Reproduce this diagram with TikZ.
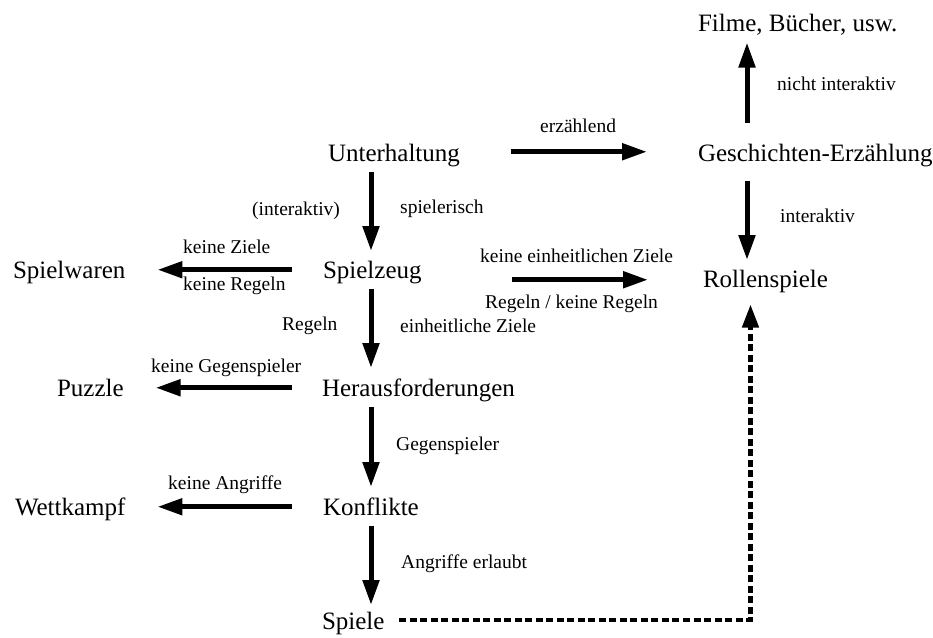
\documentclass[tikz,border=0pt]{standalone}
\usepackage{fontspec}
\setmainfont{Liberation Serif}
\usetikzlibrary{arrows.meta}
\begin{document}
\begin{tikzpicture}[x=1pt,y=-1pt,
  term/.style={anchor=base west,inner sep=0pt,outer sep=0pt,
    text height=17pt,text depth=5.5pt,font=\fontsize{25}{30}\selectfont},
  lbl/.style={anchor=base west,inner sep=0pt,font=\fontsize{19.5}{23}\selectfont},
  arr/.style={line width=5pt,-{Triangle[length=25pt,width=16pt]}},
  darr/.style={line width=4.5pt,dash pattern=on 7pt off 3.5pt,
    -{Triangle[length=23pt,width=16pt]}}]
\useasboundingbox (0,0) rectangle (933,637);

% categories
\node[term] (fil) at (698,31) {Filme, Bücher, usw.};
\node[term] (unt) at (328,161.5) {Unterhaltung};
\node[term] (ges) at (698,161.5) {Geschichten-Erzählung};
\node[term] (spz) at (323,278) {Spielzeug};
\node[term] (spw) at (13,278) {Spielwaren};
\node[term] (rol) at (703,287) {Rollenspiele};
\node[term] (her) at (322,396) {Herausforderungen};
\node[term] (puz) at (57,396) {Puzzle};
\node[term] (kon) at (323,515) {Konflikte};
\node[term] (wet) at (15,515) {Wettkampf};
\node[term] (spi) at (322,629) {Spiele};

% criteria
\node[lbl] (l1) at (540,132) {erzählend};
\node[lbl] (l2) at (400,213) {spielerisch};
\node[lbl] (l3) at (252,215) {(interaktiv)};
\node[lbl] (l4) at (480,262) {keine einheitlichen Ziele};
\node[lbl] (l5) at (485,308) {Regeln / keine Regeln};
\node[lbl] (l6) at (183,253) {keine Ziele};
\node[lbl] (l7) at (183,290) {keine Regeln};
\node[lbl] (l8) at (282,330) {Regeln};
\node[lbl] (l9) at (400,332) {einheitliche Ziele};
\node[lbl] (l10) at (151,372) {keine Gegenspieler};
\node[lbl] (l11) at (396,450) {Gegenspieler};
\node[lbl] (l12) at (168,489) {keine Angriffe};
\node[lbl] (l13) at (401,568) {Angriffe erlaubt};
\node[lbl] (l14) at (777,90) {nicht interaktiv};
\node[lbl] (l15) at (780,222) {interaktiv};

% main vertical chain
\draw[arr,shorten <=5pt,shorten >=10pt] (371,0 |- unt.south) -- (371,0 |- spz.north);
\draw[arr,shorten <=5pt,shorten >=11pt] (371,0 |- spz.south) -- (371,0 |- her.north);
\draw[arr,shorten <=5pt,shorten >=11pt] (371,0 |- her.south) -- (371,0 |- kon.north);
\draw[arr,shorten <=5pt,shorten >=7pt] (371,0 |- kon.south) -- (371,0 |- spi.north);

% story branch
\draw[arr,shorten <=51pt,shorten >=51pt] ([yshift=4pt]unt.east) -- ([yshift=4pt]unt.east -| ges.west);
\draw[arr,shorten <=22pt,shorten >=6pt] (747,0 |- ges.north) -- (747,0 |- fil.south);
\draw[arr,shorten <=14pt,shorten >=10pt] (747,0 |- ges.south) -- (747,0 |- rol.north);

% side branches
\draw[arr,shorten <=90pt,shorten >=55pt] ([yshift=-7.5pt]spz.east) -- ([yshift=-7.5pt]spz.east -| rol.west);
\draw[arr,shorten <=31pt,shorten >=32pt] ([yshift=2.5pt]spz.west) -- ([yshift=2.5pt]spz.west -| spw.east);
\draw[arr,shorten <=30pt,shorten >=32pt] ([yshift=2.5pt]her.west) -- ([yshift=2.5pt]her.west -| puz.east);
\draw[arr,shorten <=31pt,shorten >=32pt] ([yshift=2.5pt]kon.west) -- ([yshift=2.5pt]kon.west -| wet.east);

% games may also become role-playing games
\draw[darr,shorten <=15pt,shorten >=12pt] ([yshift=3.5pt]spi.east) -| ([xshift=-15pt]rol.south);
\end{tikzpicture}
\end{document}
